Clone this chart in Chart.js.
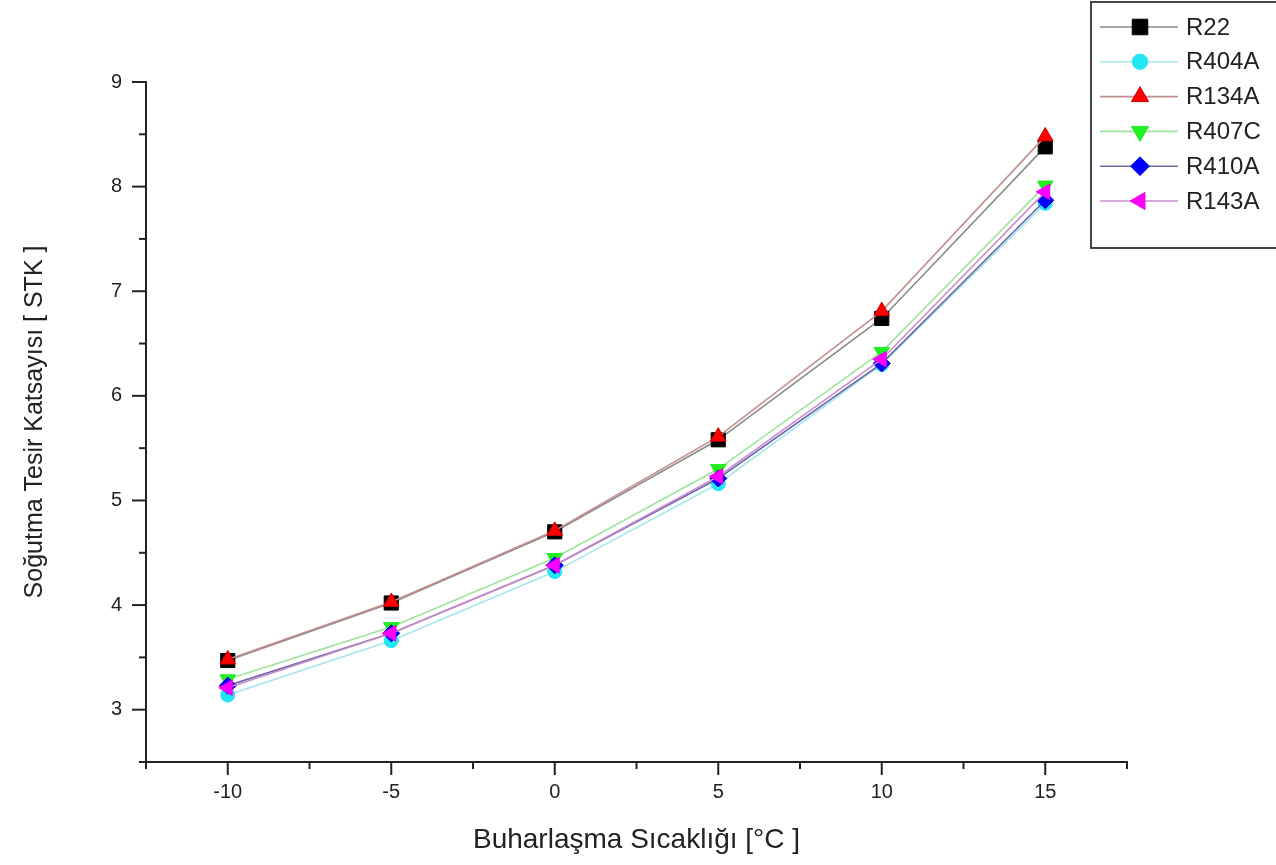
<!DOCTYPE html>
<html>
<head>
<meta charset="utf-8">
<script src="https://cdn.jsdelivr.net/npm/chart.js@4.4.1/dist/chart.umd.min.js"></script>
<style>
  html, body { margin: 0; padding: 0; background: #ffffff; }
  #wrap { width: 1276px; height: 865px; position: relative; }
</style>
</head>
<body>
<div id="wrap"><canvas id="c" width="1276" height="865"></canvas></div>
<script>
// ---- data ----
const temperatures = [-10, -5, 0, 5, 10, 15];
const seriesNames = ['R22', 'R404A', 'R134A', 'R407C', 'R410A', 'R143A'];
const r22   = [3.47, 4.02, 4.70, 5.58, 6.74, 8.38];
const r404a = [3.14, 3.66, 4.32, 5.16, 6.30, 7.84];
const r134a = [3.48, 4.03, 4.71, 5.61, 6.81, 8.48];
const r407c = [3.29, 3.79, 4.45, 5.30, 6.42, 8.01];
const r410a = [3.23, 3.73, 4.38, 5.21, 6.31, 7.87];
const r143a = [3.21, 3.73, 4.38, 5.23, 6.35, 7.95];
const xLabelValues = [-10, -5, 0, 5, 10, 15];
const yLabelValues = [3, 4, 5, 6, 7, 8, 9];
const xTickValues = [-12.5, -10, -7.5, -5, -2.5, 0, 2.5, 5, 7.5, 10, 12.5, 15, 17.5];
const yTickValues = [2.5, 3, 3.5, 4, 4.5, 5, 5.5, 6, 6.5, 7, 7.5, 8, 8.5, 9];
const xTitle = 'Buharlaşma Sıcaklığı [°C ]';
const yTitle = 'Soğutma Tesir Katsayısı [ STK ]';

const FONT = "'Liberation Sans', Arial, sans-serif";
const TEXT = '#222222';

function pts(arr) { return temperatures.map((t, i) => ({ x: t, y: arr[i] })); }

const styles = [
  { line: '#8a8a8a', fill: '#000000', border: '#000000', style: 'rect', r: 10, rot: 0, order: 5 },
  { line: '#a6e6ec', fill: '#22e6f2', border: '#22e6f2', style: 'circle', r: 7, rot: 0, order: 6 },
  { line: '#c48e8e', fill: '#ff0000', border: '#cc0000', style: 'triangle', r: 9, rot: 0, order: 2 },
  { line: '#9ee49e', fill: '#22ee22', border: '#22ee22', style: 'triangle', r: 9, rot: 180, order: 4 },
  { line: '#6a6aaa', fill: '#0000ff', border: '#0000cc', style: 'rectRot', r: 8.5, rot: 0, order: 3 },
  { line: '#cc8ccc', fill: '#ff00ff', border: '#ee00ee', style: 'triangle', r: 9, rot: -90, order: 1 }
];
const values = [r22, r404a, r134a, r407c, r410a, r143a];

const datasets = seriesNames.map((name, i) => ({
  label: name,
  data: pts(values[i]),
  borderColor: styles[i].line,
  backgroundColor: styles[i].fill,
  pointBackgroundColor: styles[i].fill,
  pointBorderColor: styles[i].border,
  pointBorderWidth: 1,
  pointStyle: styles[i].style,
  pointRadius: styles[i].r,
  pointRotation: styles[i].rot,
  pointHoverRadius: styles[i].r,
  borderWidth: 1.6,
  tension: 0,
  order: styles[i].order
}));

const tickPlugin = {
  id: 'customTicks',
  afterDraw(chart) {
    const ctx = chart.ctx;
    const xs = chart.scales.x, ys = chart.scales.y;
    const area = chart.chartArea;
    ctx.save();
    ctx.strokeStyle = '#222';
    ctx.lineWidth = 2;
    xTickValues.forEach(v => {
      const px = xs.getPixelForValue(v);
      const len = (v % 5 === 0) ? 13 : 7;
      ctx.beginPath(); ctx.moveTo(px, area.bottom); ctx.lineTo(px, area.bottom + len); ctx.stroke();
    });
    yTickValues.forEach(v => {
      const py = ys.getPixelForValue(v);
      const len = Number.isInteger(v) ? 14 : 7;
      ctx.beginPath(); ctx.moveTo(area.left, py); ctx.lineTo(area.left - len, py); ctx.stroke();
    });
    ctx.restore();
  }
};

const legendPlugin = {
  id: 'customLegend',
  afterDraw(chart) {
    const ctx = chart.ctx;
    ctx.save();
    ctx.strokeStyle = '#444';
    ctx.lineWidth = 2;
    ctx.strokeRect(1091, 2, 200, 246);
    chart.data.datasets.forEach((ds, i) => {
      const y = 27 + i * 34.8;
      ctx.strokeStyle = ds.borderColor;
      ctx.lineWidth = 1.6;
      ctx.beginPath(); ctx.moveTo(1100, y); ctx.lineTo(1178, y); ctx.stroke();
      ctx.fillStyle = ds.pointBackgroundColor;
      ctx.strokeStyle = ds.pointBorderColor;
      ctx.lineWidth = 1;
      Chart.helpers.drawPoint(ctx, {
        pointStyle: ds.pointStyle,
        rotation: ds.pointRotation,
        radius: ds.pointRadius * 1.1,
        borderWidth: 1
      }, 1140, y);
      ctx.fillStyle = TEXT;
      ctx.font = '24px ' + FONT;
      ctx.textBaseline = 'middle';
      ctx.textAlign = 'left';
      ctx.fillText(ds.label, 1186, y + 1);
    });
    ctx.restore();
  }
};

new Chart(document.getElementById('c'), {
  type: 'line',
  data: { datasets },
  plugins: [tickPlugin, legendPlugin],
  options: {
    responsive: false,
    animation: false,
    layout: { padding: { left: 0, right: 149, top: 82, bottom: 0 } },
    plugins: { legend: { display: false }, tooltip: { enabled: false } },
    scales: {
      x: {
        type: 'linear',
        min: -12.5, max: 17.5,
        afterFit(s) { s.height = 103; },
        afterBuildTicks(s) { s.ticks = xLabelValues.map(v => ({ value: v })); },
        grid: { display: false, drawTicks: false },
        border: { display: true, color: '#222', width: 2 },
        ticks: {
          padding: 18,
          color: TEXT,
          font: { family: FONT, size: 20 },
          autoSkip: false,
          maxRotation: 0,
          callback: v => String(v)
        },
        title: {
          display: true, text: xTitle, color: TEXT,
          font: { family: FONT, size: 28 },
          padding: { top: 0, bottom: 8 }
        }
      },
      y: {
        type: 'linear',
        min: 2.5, max: 9,
        afterFit(s) { s.width = 146; },
        afterBuildTicks(s) { s.ticks = yLabelValues.map(v => ({ value: v })); },
        grid: { display: false, drawTicks: false },
        border: { display: true, color: '#222', width: 2 },
        ticks: {
          padding: 24,
          color: TEXT,
          font: { family: FONT, size: 20 },
          autoSkip: false,
          callback: v => String(v)
        },
        title: {
          display: true, text: yTitle, color: TEXT,
          font: { family: FONT, size: 25 },
          padding: { top: 20, bottom: 0 }
        }
      }
    }
  }
});
</script>
</body>
</html>
